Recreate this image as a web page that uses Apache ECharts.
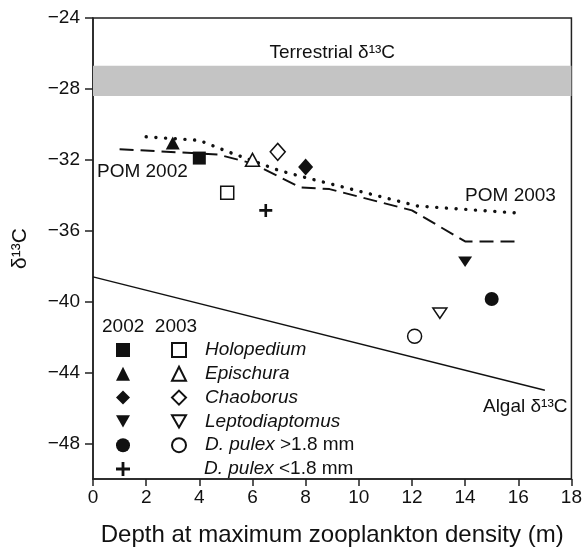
<!DOCTYPE html>
<html>
<head>
<meta charset="utf-8">
<script src="https://cdn.jsdelivr.net/npm/echarts/dist/echarts.min.js"></script>
<style>
  html, body { margin: 0; padding: 0; background: #fff; }
  #chart { width: 585px; height: 552px; }
</style>
</head>
<body>
<div id="chart"></div>
<script>
// taxa, 2002 (filled) and 2003 (open)
const species = ['Holopedium', 'Epischura', 'Chaoborus', 'Leptodiaptomus', 'D. pulex >1.8 mm', 'D. pulex <1.8 mm'];
const pts2002 = [[4.0, -31.9], [3.0, -31.05], [8.0, -32.4], [14.0, -37.75], [15.0, -39.85], [6.5, -34.85]];
const pts2003 = [[5.05, -33.85], [6.0, -32.0], [6.95, -31.55], [13.05, -40.65], [12.1, -41.95]];

// POM and algal lines
const pom2002 = [[1, -31.4], [4.7, -31.7], [6, -32.2], [7.8, -33.55], [8.9, -33.65], [12, -34.85], [14, -36.6], [16, -36.6]];
const pom2003 = [[2, -30.7], [4, -30.9], [5, -31.5], [7, -32.6], [8, -33.0], [12.2, -34.6], [13.1, -34.7], [16, -35.0]];
const algal = [[0, -38.6], [17, -45.0]];
const terrestrialBand = [-26.7, -28.4];

const yTicks = [-24, -28, -32, -36, -40, -44, -48];

const FONT = '"Liberation Sans", Arial, Helvetica, sans-serif';
const INK = '#111';

const DOWN = 'path://M0,0L10,0L5,8.7Z';
const PLUS = 'path://M4,0H6V4H10V6H6V10H4V6H0V4H4Z';
const symbols = ['rect', 'triangle', 'diamond', DOWN, 'circle', PLUS];
const sizes = [13, [14, 13], [15, 17], [14, 12], 14, 13];

function richName(sp) {
    if (sp.indexOf('D. pulex') === 0) return '{i|D. pulex} {n|' + sp.slice(9) + '}';
    return '{i|' + sp + '}';
}

const rich = {
    i: { fontFamily: FONT, fontStyle: 'italic', fontSize: 19, lineHeight: 20, color: INK },
    n: { fontFamily: FONT, fontSize: 19, lineHeight: 20, color: INK },
    g: { width: 69, lineHeight: 20 },
    g2: { width: 14, lineHeight: 20 }
};

let series = [];
species.forEach((sp, i) => {
    series.push({
        name: sp + ' (2002)',
        type: 'scatter',
        symbol: symbols[i],
        symbolSize: sizes[i],
        symbolKeepAspect: true,
        itemStyle: { color: INK, opacity: 1 },
        data: [pts2002[i]],
        z: 5
    });
});
species.slice(0, 5).forEach((sp, i) => {
    series.push({
        name: sp + ' (2003)',
        type: 'scatter',
        symbol: symbols[i],
        symbolSize: sizes[i],
        symbolKeepAspect: true,
        itemStyle: { color: '#fff', borderColor: INK, borderWidth: 1.5, opacity: 1 },
        data: [pts2003[i]],
        z: 5
    });
});

const lbl = {
    show: true, position: [0, 0], fontFamily: FONT, fontSize: 19, color: INK, verticalAlign: 'middle'
};

series.push({
    name: 'POM 2002',
    type: 'line',
    symbol: 'none',
    data: pom2002,
    lineStyle: { color: INK, width: 2, type: [14, 7] },
    markPoint: {
        symbolSize: 0,
        label: Object.assign({}, lbl, { align: 'left', formatter: 'POM 2002' }),
        data: [{ coord: [0.15, -32.66] }]
    }
});
series.push({
    name: 'POM 2003',
    type: 'line',
    symbol: 'none',
    data: pom2003,
    lineStyle: { color: INK, width: 3.4, type: [0.1, 9.6], cap: 'round' },
    markPoint: {
        symbolSize: 0,
        label: Object.assign({}, lbl, { align: 'left', formatter: 'POM 2003' }),
        data: [{ coord: [14.0, -34.0] }]
    }
});
series.push({
    name: 'Algal',
    type: 'line',
    symbol: 'none',
    data: algal,
    lineStyle: { color: INK, width: 1.5 },
    markPoint: {
        symbolSize: 0,
        label: Object.assign({}, lbl, { align: 'right', formatter: 'Algal δ¹³C' }),
        data: [{ coord: [17.85, -45.95] }]
    },
    markArea: {
        silent: true,
        itemStyle: { color: '#c4c4c4' },
        label: { show: true, position: 'top', distance: 4, fontFamily: FONT, fontSize: 19, color: INK },
        data: [[{ yAxis: terrestrialBand[0], name: 'Terrestrial δ¹³C' }, { yAxis: terrestrialBand[1] }]]
    }
});

const chart = echarts.init(document.getElementById('chart'));
chart.setOption({
    animation: false,
    backgroundColor: '#fff',
    textStyle: { fontFamily: FONT },
    grid: { left: 93, right: 9, top: 18, bottom: 69, show: true, borderColor: '#222', borderWidth: 1.5 },
    xAxis: {
        type: 'value',
        min: 0, max: 18, interval: 2,
        name: 'Depth at maximum zooplankton density (m)',
        nameLocation: 'middle',
        nameGap: 44,
        nameTextStyle: { fontFamily: FONT, fontSize: 24, color: INK },
        axisLine: { lineStyle: { color: '#222', width: 1.5 } },
        axisTick: { length: 7, lineStyle: { color: '#222', width: 1.5 } },
        axisLabel: { margin: 9, fontFamily: FONT, fontSize: 19, color: INK },
        splitLine: { show: false }
    },
    yAxis: {
        type: 'value',
        min: -50, max: -24,
        name: 'δ¹³C',
        nameLocation: 'middle',
        nameGap: 62,
        nameTextStyle: { fontFamily: FONT, fontSize: 21, color: INK },
        axisLine: { lineStyle: { color: '#222', width: 1.5 } },
        axisTick: { length: 8, customValues: yTicks, lineStyle: { color: '#222', width: 1.5 } },
        axisLabel: {
            margin: 13, fontFamily: FONT, fontSize: 19, color: INK,
            customValues: yTicks,
            formatter: v => String(v).replace('-', '\u2212')
        },
        splitLine: { show: false }
    },
    graphic: [{
        type: 'text', left: 102, top: 317,
        style: { text: '2002  2003', font: '19px ' + FONT, fill: INK }
    }],
    legend: [{
        orient: 'vertical',
        left: 116, top: 340,
        padding: 0,
        itemGap: 3.8,
        itemWidth: 14, itemHeight: 14,
        selectedMode: false,
        data: species.map(sp => sp + ' (2002)'),
        formatter: name => name === species[5] + ' (2002)' ? '{g|}' + richName(species[5]) : ' ',
        textStyle: { fontFamily: FONT, fontSize: 19, lineHeight: 20, color: INK, rich: rich }
    }, {
        orient: 'vertical',
        left: 171, top: 340,
        padding: 0,
        itemGap: 3.8,
        itemWidth: 14, itemHeight: 14,
        selectedMode: false,
        data: species.slice(0, 5).map(sp => sp + ' (2003)'),
        formatter: name => '{g2|}' + richName(name.replace(' (2003)', '')),
        textStyle: { fontFamily: FONT, fontSize: 19, lineHeight: 20, color: INK, rich: rich }
    }],
    series: series
});
</script>
</body>
</html>
